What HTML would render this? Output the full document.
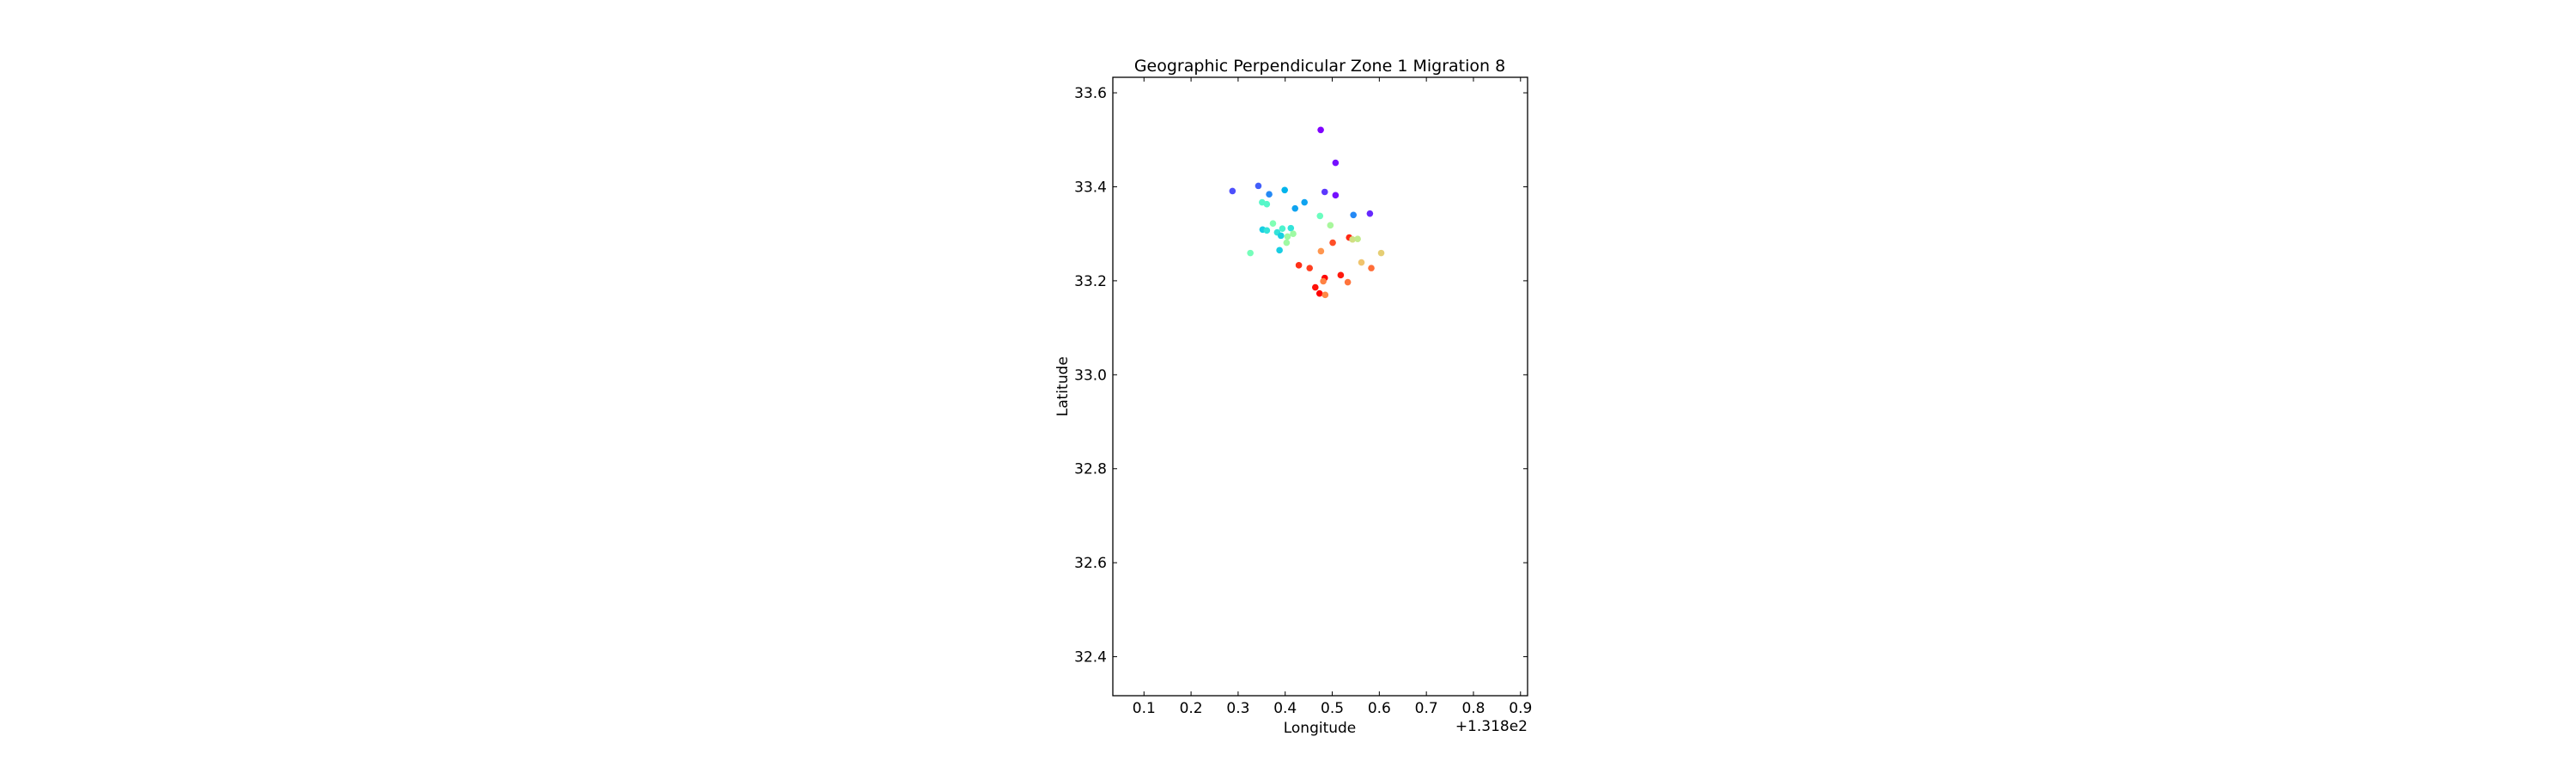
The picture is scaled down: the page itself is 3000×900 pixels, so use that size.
<!DOCTYPE html>
<html><head><meta charset="utf-8"><style>
html,body{margin:0;padding:0;background:#fff;}
svg{display:block;font-family:"DejaVu Sans","Liberation Sans",sans-serif;}
</style></head><body>
<svg id="chart" width="3000" height="900" xmlns="http://www.w3.org/2000/svg">
<rect width="3000" height="900" fill="#fff"/>
<text x="1537" y="83" font-size="19" text-anchor="middle">Geographic Perpendicular Zone 1 Migration 8</text>
<g id="marks"></g>
<g id="axes"></g>
<text x="1537" y="853" font-size="17" text-anchor="middle">Longitude</text>
<text x="1779" y="851" font-size="17" text-anchor="end">+1.318e2</text>
<text transform="translate(1243,450) rotate(-90)" font-size="17" text-anchor="middle">Latitude</text>
</svg>
<script>
const lons=[0.4755,0.507,0.288,0.343,0.366,0.399,0.484,0.507,0.441,0.421,0.351,0.361,0.545,0.580,0.474,0.496,0.374,0.352,0.361,0.394,0.412,0.383,0.391,0.417,0.405,0.403,0.536,0.543,0.554,0.501,0.326,0.388,0.476,0.604,0.562,0.429,0.452,0.583,0.518,0.484,0.481,0.533,0.464,0.473,0.485];
const lats=[33.521,33.451,33.391,33.402,33.384,33.393,33.389,33.382,33.367,33.354,33.367,33.363,33.340,33.343,33.338,33.318,33.322,33.309,33.307,33.311,33.312,33.303,33.296,33.300,33.294,33.281,33.292,33.288,33.289,33.281,33.259,33.265,33.263,33.259,33.239,33.233,33.227,33.227,33.212,33.206,33.199,33.197,33.186,33.173,33.170];
const cvals=[0.0,0.02,0.1,0.12,0.18,0.25,0.07,0.02,0.22,0.22,0.42,0.42,0.18,0.05,0.46,0.58,0.5,0.3,0.35,0.4,0.35,0.35,0.3,0.56,0.56,0.56,0.95,0.66,0.63,0.9,0.48,0.3,0.8,0.7,0.72,0.94,0.92,0.86,0.97,1.0,0.83,0.85,0.98,1.0,0.82];
const xTicks=[0.1,0.2,0.3,0.4,0.5,0.6,0.7,0.8,0.9];
const xTickLabels=["0.1","0.2","0.3","0.4","0.5","0.6","0.7","0.8","0.9"];
const yTicks=[32.4,32.6,32.8,33.0,33.2,33.4,33.6];
const yTickLabels=["32.4","32.6","32.8","33.0","33.2","33.4","33.6"];
const L=1296,R=1779,T=90,B=810;
const xMin=0.0338,xMax=0.915,yMin=32.317,yMax=33.633;
function xs(v){return L+(v-xMin)/(xMax-xMin)*(R-L);}
function ys(v){return B-(v-yMin)/(yMax-yMin)*(B-T);}
function rainbow(x){
  const r=Math.min(1,Math.abs(2*x-0.5)),g=Math.sin(Math.PI*x),b=Math.cos(Math.PI*x/2);
  return `rgb(${Math.round(r*255)},${Math.round(g*255)},${Math.round(Math.max(0,b)*255)})`;
}
const NS="http://www.w3.org/2000/svg";
const marks=document.getElementById('marks');
for(let i=0;i<lons.length;i++){
  const c=document.createElementNS(NS,'circle');
  c.setAttribute('cx',xs(lons[i]));c.setAttribute('cy',ys(lats[i]));
  c.setAttribute('r',3.8);c.setAttribute('fill',rainbow(cvals[i]));
  
  
  marks.appendChild(c);
}
const axes=document.getElementById('axes');
function line(x1,y1,x2,y2,w){
  const l=document.createElementNS(NS,'line');
  l.setAttribute('x1',x1);l.setAttribute('y1',y1);l.setAttribute('x2',x2);l.setAttribute('y2',y2);
  l.setAttribute('stroke','#000');l.setAttribute('stroke-width',w);
  axes.appendChild(l);return l;
}
function text(x,y,s,anchor,name){
  const t=document.createElementNS(NS,'text');
  t.setAttribute('x',x);t.setAttribute('y',y);t.setAttribute('font-size',17);t.setAttribute('text-anchor',anchor);
  t.textContent=s;
  
  
  axes.appendChild(t);
}
xTicks.forEach((v,i)=>{
  const x=xs(v);
  line(x,B,x,B-5,1);line(x,T,x,T+5,1);
  text(x,830,xTickLabels[i],'middle','x-tick-label');
});
yTicks.forEach((v,i)=>{
  const y=ys(v);
  line(L,y,L+5,y,1);line(R,y,R-5,y,1);
  text(1289,y+6,yTickLabels[i],'end','y-tick-label');
});
const frame=document.createElementNS(NS,'rect');
frame.setAttribute('x',L);frame.setAttribute('y',T);frame.setAttribute('width',R-L);frame.setAttribute('height',B-T);
frame.setAttribute('fill','none');frame.setAttribute('stroke','#000');frame.setAttribute('stroke-width',1.3);


axes.appendChild(frame);
</script>
</body></html>
